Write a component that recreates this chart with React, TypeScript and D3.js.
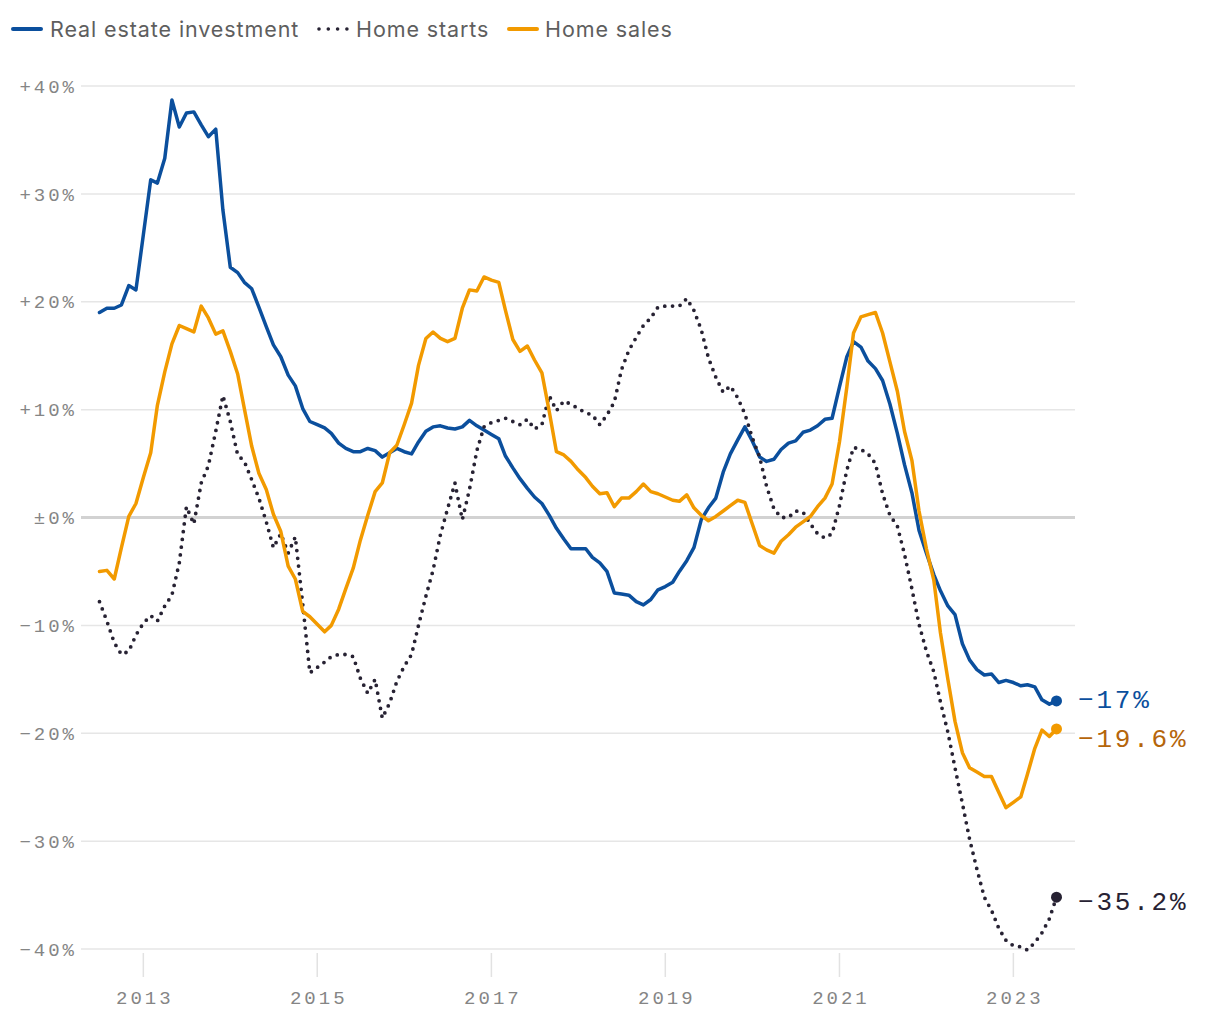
import React from 'react';
import * as d3 from 'd3';

const START_MONTH = new Date(2012, 6, 1);

const realEstateInvestment = [
  19.0, 19.4, 19.4, 19.7, 21.5, 21.1, 26.2, 31.3, 31.0, 33.3,
  38.7, 36.2, 37.5, 37.6, 36.4, 35.3, 36.0, 28.5, 23.2, 22.7,
  21.8, 21.2, 19.5, 17.7, 16.0, 14.9, 13.2, 12.2, 10.1, 8.9,
  8.6, 8.3, 7.8, 6.9, 6.4, 6.1, 6.1, 6.4, 6.2, 5.6,
  6.0, 6.4, 6.1, 5.9, 7.0, 8.0, 8.4, 8.5, 8.3, 8.2,
  8.4, 9.0, 8.5, 8.1, 7.7, 7.3, 5.7, 4.6, 3.6, 2.7,
  1.9, 1.3, 0.2, -1.0, -2.0, -2.9, -2.9, -2.9, -3.7, -4.2,
  -5.0, -7.0, -7.1, -7.2, -7.8, -8.1, -7.6, -6.7, -6.4, -6.0,
  -5.0, -4.0, -2.8, -0.2, 0.9, 1.8, 4.2, 5.9, 7.2, 8.4,
  7.1, 5.6, 5.2, 5.4, 6.3, 6.9, 7.1, 7.9, 8.1, 8.5,
  9.1, 9.2, 12.1, 14.9, 16.3, 15.8, 14.5, 13.8, 12.7, 10.5,
  7.8, 4.9, 2.3, -1.2, -3.3, -5.3, -6.8, -8.2, -9.0, -11.7,
  -13.2, -14.1, -14.6, -14.5, -15.3, -15.1, -15.3, -15.6, -15.5, -15.7,
  -16.9, -17.3, -17.0,
];

const homeStarts = [
  -7.8, -9.6, -11.6, -12.7, -12.4, -10.9, -9.8, -9.1, -9.6, -8.2,
  -7.2, -4.2, 1.0, -0.6, 3.2, 4.8, 8.0, 11.3, 8.9, 5.8,
  5.2, 3.5, 1.8, -0.4, -2.8, -1.5, -3.3, -1.8, -8.0, -14.4,
  -13.9, -13.4, -12.9, -12.7, -12.7, -12.9, -14.9, -16.3, -15.0, -18.6,
  -17.2, -15.2, -13.8, -12.7, -10.0, -7.3, -4.9, -1.6, 0.8, 3.2,
  -0.2, 2.6, 6.2, 8.4, 8.8, 9.0, 9.2, 8.9, 8.6, 9.1,
  8.2, 8.6, 11.3, 9.9, 10.8, 10.5, 10.1, 9.7, 9.5, 8.6,
  9.5, 10.7, 13.7, 15.5, 16.7, 17.8, 18.5, 19.5, 19.6, 19.6,
  19.6, 20.3, 19.2, 17.4, 14.8, 13.0, 11.6, 12.2, 11.1, 9.6,
  7.4, 5.6, 2.9, 0.8, 0.0, 0.0, 0.6, 0.5, -0.6, -1.5,
  -1.9, -1.5, 1.1, 4.4, 6.5, 6.3, 5.9, 5.0, 2.2, 0.2,
  -0.8, -3.4, -6.6, -9.9, -12.4, -14.3, -17.1, -19.9, -23.2, -26.5,
  -29.8, -32.6, -35.2, -36.4, -38.1, -39.2, -39.7, -39.8, -40.1, -39.4,
  -38.5, -37.2, -35.2,
];

const homeSales = [
  -5.0, -4.9, -5.7, -2.8, 0.1, 1.3, 3.7, 6.0, 10.4, 13.5,
  16.1, 17.8, 17.5, 17.2, 19.6, 18.5, 17.0, 17.3, 15.4, 13.3,
  10.1, 6.6, 4.1, 2.6, 0.3, -1.3, -4.5, -5.7, -8.7, -9.2,
  -9.9, -10.6, -10.0, -8.5, -6.6, -4.7, -2.1, 0.2, 2.4, 3.2,
  6.0, 6.7, 8.6, 10.6, 14.1, 16.6, 17.2, 16.6, 16.3, 16.6,
  19.4, 21.1, 21.0, 22.3, 22.0, 21.8, 19.2, 16.5, 15.4, 15.9,
  14.6, 13.4, 9.8, 6.1, 5.8, 5.2, 4.4, 3.7, 2.9, 2.2,
  2.3, 1.0, 1.8, 1.8, 2.4, 3.1, 2.4, 2.2, 1.9, 1.6,
  1.5, 2.1, 0.9, 0.2, -0.3, 0.1, 0.6, 1.1, 1.6, 1.4,
  -0.6, -2.6, -3.0, -3.3, -2.2, -1.6, -0.9, -0.4, 0.1, 1.0,
  1.8, 3.1, 7.0, 12.1, 17.1, 18.6, 18.8, 19.0, 17.1, 14.4,
  11.7, 8.0, 5.3, 0.6, -2.9, -5.8, -10.7, -15.0, -18.9, -21.8,
  -23.2, -23.6, -24.0, -24.0, -25.5, -26.9, -26.4, -25.9, -23.8, -21.4,
  -19.7, -20.3, -19.6,
];

const seriesNames = ['Real estate investment', 'Home starts', 'Home sales'];
const endLabels = ['\u221217%', '\u221235.2%', '\u221219.6%'];
const yTicks = [-40, -30, -20, -10, 0, 10, 20, 30, 40];
const xTickYears = [2013, 2015, 2017, 2019, 2021, 2023];

const BLUE = '#0b4f9d';
const DARK = '#272233';
const ORANGE = '#f29a00';
const ORANGE_TEXT = '#b5650a';
const MONO = '"Liberation Mono", monospace';
const SANS = 'Inter, Roboto, sans-serif';

function fmtY(v: number) {
  if (v > 0) return `+${v}%`;
  if (v === 0) return '\u00b10%';
  return `\u2212${-v}%`;
}

export default function App() {
  const dates = realEstateInvestment.map((_, i) => d3.timeMonth.offset(START_MONTH, i));
  const x = d3
    .scaleTime()
    .domain([dates[0], dates[dates.length - 1]])
    .range([99.5, 1056.5]);
  const y = d3.scaleLinear().domain([-40, 40]).range([949, 86]);
  const line = d3
    .line<number>()
    .x((_, i) => x(dates[i]))
    .y((d) => y(d));

  const series = [
    { name: seriesNames[0], data: realEstateInvestment, color: BLUE, text: BLUE, dash: undefined as string | undefined, width: 3.5, label: endLabels[0], dy: -2 },
    { name: seriesNames[1], data: homeStarts, color: DARK, text: DARK, dash: '0 7.8', width: 3.8, label: endLabels[1], dy: 4 },
    { name: seriesNames[2], data: homeSales, color: ORANGE, text: ORANGE_TEXT, dash: undefined, width: 3.5, label: endLabels[2], dy: 9 },
  ];

  const gridX1 = 81;
  const gridX2 = 1075;
  const last = dates.length - 1;
  const legendText = { fontFamily: SANS, fontSize: 21.5, letterSpacing: 0.9, fill: '#5e5e5e' };

  return (
    <svg
      width={1220}
      height={1020}
      style={{ position: 'absolute', left: 0, top: 0, background: '#fff' }}
    >
      {/* legend */}
      <g>
        <line x1={13} x2={41} y1={29} y2={29} stroke={BLUE} strokeWidth={4} strokeLinecap="round" />
        <text x={50} y={29} dy="0.36em" {...legendText}>{seriesNames[0]}</text>
        <line x1={319} x2={347} y1={29} y2={29} stroke={DARK} strokeWidth={3.6} strokeLinecap="round" strokeDasharray="0 9.3" />
        <text x={356} y={29} dy="0.36em" {...legendText}>{seriesNames[1]}</text>
        <line x1={509} x2={537} y1={29} y2={29} stroke={ORANGE} strokeWidth={4} strokeLinecap="round" />
        <text x={545} y={29} dy="0.36em" {...legendText}>{seriesNames[2]}</text>
      </g>

      {/* grid */}
      <g>
        {yTicks.map((t) => (
          <g key={t}>
            <line
              x1={gridX1}
              x2={gridX2}
              y1={y(t)}
              y2={y(t)}
              stroke={t === 0 ? '#d2d2d2' : '#e6e6e6'}
              strokeWidth={t === 0 ? 3 : 1.5}
            />
            <text
              x={77}
              y={y(t)}
              dy="0.35em"
              textAnchor="end"
              fontFamily={MONO}
              fontSize={19}
              letterSpacing={3}
              fill="#858585"
            >
              {fmtY(t)}
            </text>
          </g>
        ))}
      </g>

      {/* x axis */}
      <g>
        {xTickYears.map((yr) => {
          const xx = x(new Date(yr, 0, 1));
          return (
            <g key={yr}>
              <line x1={xx} x2={xx} y1={953} y2={977} stroke="#e2e2e2" strokeWidth={1.5} />
              <text
                x={xx + 1.5}
                y={1004}
                textAnchor="middle"
                fontFamily={MONO}
                fontSize={19}
                letterSpacing={3}
                fill="#858585"
              >
                {yr}
              </text>
            </g>
          );
        })}
      </g>

      {/* lines */}
      <g fill="none">
        {series.map((s) => (
          <path
            key={s.name}
            d={line(s.data) || ''}
            stroke={s.color}
            strokeWidth={s.width}
            strokeDasharray={s.dash}
            strokeLinecap="round"
            strokeLinejoin="round"
          />
        ))}
      </g>

      {/* end dots and labels */}
      <g>
        {series.map((s) => (
          <g key={s.name}>
            <circle cx={x(dates[last])} cy={y(s.data[last])} r={5.5} fill={s.color} />
            <text
              x={1078}
              y={y(s.data[last]) + s.dy}
              dy="0.35em"
              fontFamily={MONO}
              fontSize={26}
              letterSpacing={2.8}
              fill={s.text}
            >
              {s.label}
            </text>
          </g>
        ))}
      </g>
    </svg>
  );
}
